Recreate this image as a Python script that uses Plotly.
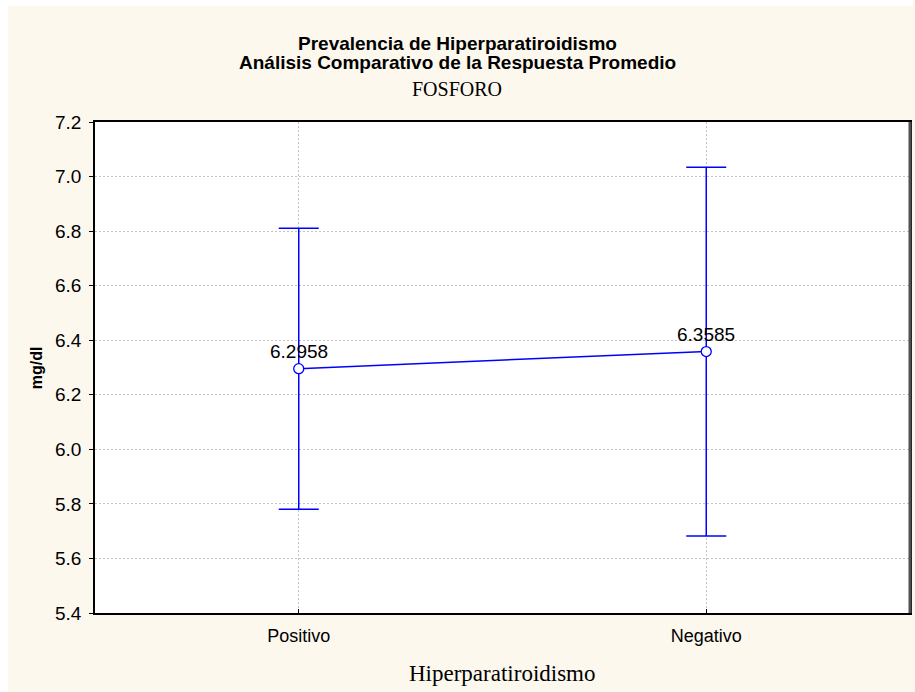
import plotly.graph_objects as go

# Mean phosphorus (mg/dl) by hyperparathyroidism status, with confidence bounds
categories = ["Positivo", "Negativo"]
means = [6.2958, 6.3585]
err_upper = [0.515, 0.676]
err_lower = [0.515, 0.676]
mean_labels = ["6.2958", "6.3585"]
y_ticks = [5.4, 5.6, 5.8, 6.0, 6.2, 6.4, 6.6, 6.8, 7.0, 7.2]

BLUE = "#0000FF"
BEIGE = "#FDF8EE"
SANS = "Liberation Sans, Arial"
SERIF = "Liberation Serif, Times New Roman"

W, H = 915, 692
ML, MR, MT, MB = 95, 3, 122, 79
PW, PH = W - ML - MR, H - MT - MB


def px_x(px):
    return (px - ML) / PW


def px_y(py):
    return (H - MB - py) / PH


fig = go.Figure()
fig.add_trace(go.Scatter(
    x=categories,
    y=means,
    mode="lines+markers",
    line=dict(color=BLUE, width=1.5),
    marker=dict(symbol="circle", size=10, color="white",
                line=dict(color=BLUE, width=1.3)),
    error_y=dict(type="data", symmetric=False, array=err_upper,
                 arrayminus=err_lower, color=BLUE, thickness=1.5, width=20),
    showlegend=False,
    hoverinfo="skip",
))

annotations = []
for cat, m, lab in zip(categories, means, mean_labels):
    annotations.append(dict(x=cat, y=m, text=lab, showarrow=False,
                            yshift=17, font=dict(family=SANS, size=19, color="black")))


def page_text(x, y, text, font, **kw):
    return dict(x=px_x(x), y=px_y(y), xref="paper", yref="paper", showarrow=False,
                xanchor="center", yanchor="middle", text=text, font=font, **kw)


title_font = dict(family=SANS, size=19, color="black")
annotations += [
    page_text(458, 44, "<b>Prevalencia de Hiperparatiroidismo</b>", title_font),
    page_text(458, 62, "<b>Análisis Comparativo de la Respuesta Promedio</b>", title_font),
    page_text(458, 89, "FOSFORO", dict(family=SERIF, size=20, color="black")),
    page_text(503, 673, "Hiperparatiroidismo", dict(family=SERIF, size=23, color="black")),
    page_text(36, 368, "<b>mg/dl</b>", dict(family=SANS, size=16, color="black"),
              textangle=-90),
]

shapes = [
    # White strips around the beige page area
    dict(type="rect", xref="paper", yref="paper", layer="below",
         x0=px_x(0), x1=px_x(8), y0=px_y(H), y1=px_y(0),
         fillcolor="white", line=dict(width=0)),
    dict(type="rect", xref="paper", yref="paper", layer="below",
         x0=px_x(0), x1=px_x(W), y0=px_y(6), y1=px_y(0),
         fillcolor="white", line=dict(width=0)),
    # Darker right edge of the plot frame
    dict(type="line", xref="paper", yref="paper", layer="above",
         x0=1.0, x1=1.0, y0=0, y1=1, line=dict(color="#505050", width=3)),
]

grid = dict(showgrid=True, gridcolor="#C4C4C4", griddash="2px,2px", gridwidth=1)

fig.update_layout(
    width=W, height=H,
    margin=dict(l=ML, r=MR, t=MT, b=MB),
    paper_bgcolor=BEIGE,
    plot_bgcolor="white",
    annotations=annotations,
    shapes=shapes,
    xaxis=dict(
        type="category", range=[-0.5, 1.5],
        showline=True, linecolor="black", linewidth=1.5, mirror=True,
        ticks="inside", ticklen=4, tickcolor="black", ticklabelstandoff=6,
        tickfont=dict(family=SANS, size=18, color="black"),
        zeroline=False, **grid,
    ),
    yaxis=dict(
        range=[5.4, 7.2], tickvals=y_ticks,
        ticktext=[f"{v:.1f}" for v in y_ticks],
        showline=True, linecolor="black", linewidth=1.5, mirror=True,
        ticks="outside", ticklen=4, tickcolor="black", ticklabelstandoff=4,
        tickfont=dict(family=SANS, size=19, color="black"),
        zeroline=False, **grid,
    ),
)

fig.write_html("out.html")
